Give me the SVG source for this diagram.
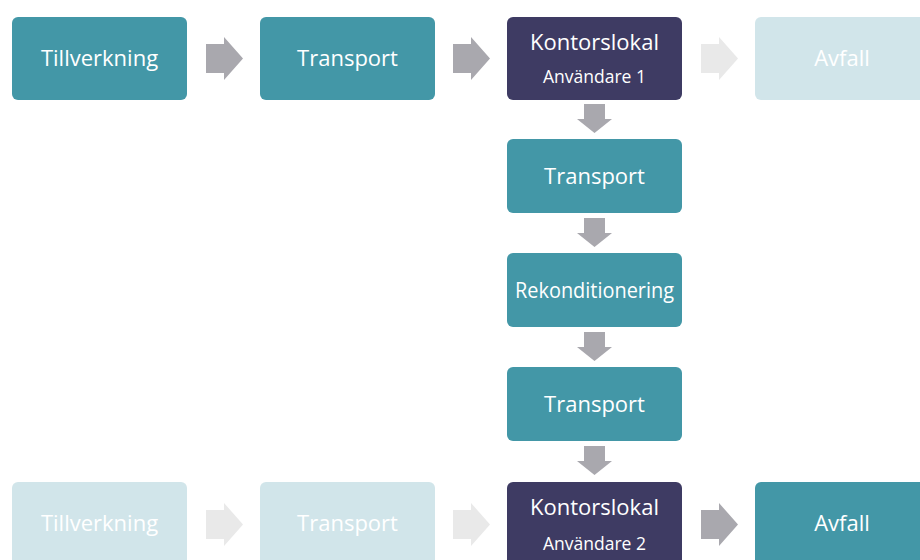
<svg xmlns="http://www.w3.org/2000/svg" width="920" height="560" viewBox="0 0 920 560">
<defs>
<style>
.teal{fill:#4397A7}
.navy{fill:#3E3B63}
.faded{fill:#D1E5EA}
.arr{fill:#A9A8AE}
.arrl{fill:#E9E9E9}
text{font-family:"Open Sans","Liberation Sans",sans-serif;fill:#FFFFFF;text-anchor:middle}
.t{font-size:22px}
.s{font-size:17.5px}
</style>
<path id="ah" d="M0,7 H18 V0 L37,21.5 L18,43 V36 H0 Z"/>
<path id="av" d="M7,0 H28 V15 H35 L17.5,29 L0,15 H7 Z"/>
</defs>
<rect width="920" height="560" fill="#FFFFFF"/>
<g id="connectors">
<use href="#ah" class="arr" x="206" y="37"/>
<use href="#ah" class="arr" x="453" y="37"/>
<use href="#ah" class="arrl" x="701" y="37"/>
<use href="#av" class="arr" x="577" y="104"/>
<use href="#av" class="arr" x="577" y="218"/>
<use href="#av" class="arr" x="577" y="332"/>
<use href="#av" class="arr" x="577" y="446"/>
<use href="#ah" class="arrl" x="206" y="503"/>
<use href="#ah" class="arrl" x="453" y="503"/>
<use href="#ah" class="arr" x="701" y="503"/>
</g>
<g id="n1"><rect class="teal" x="12" y="17" width="175" height="83" rx="6"/><text class="t" x="99.5" y="66">Tillverkning</text></g>
<g id="n2"><rect class="teal" x="260" y="17" width="175" height="83" rx="6"/><text class="t" x="347.5" y="66">Transport</text></g>
<g id="n3"><rect class="navy" x="507" y="17" width="175" height="83" rx="6"/><text class="t" x="594.5" y="50">Kontorslokal</text><text class="s" x="594.5" y="83">Användare 1</text></g>
<g id="n4"><rect class="faded" x="755" y="17" width="175" height="83" rx="6"/><text class="t" x="842" y="66">Avfall</text></g>
<g id="n5"><rect class="teal" x="507" y="139" width="175" height="74" rx="6"/><text class="t" x="594.5" y="184">Transport</text></g>
<g id="n6"><rect class="teal" x="507" y="253" width="175" height="74" rx="6"/><text class="t" x="594.5" y="298" textLength="159" lengthAdjust="spacingAndGlyphs">Rekonditionering</text></g>
<g id="n7"><rect class="teal" x="507" y="367" width="175" height="74" rx="6"/><text class="t" x="594.5" y="412">Transport</text></g>
<g id="n8"><rect class="faded" x="12" y="482" width="175" height="83" rx="6"/><text class="t" x="99.5" y="531">Tillverkning</text></g>
<g id="n9"><rect class="faded" x="260" y="482" width="175" height="83" rx="6"/><text class="t" x="347.5" y="531">Transport</text></g>
<g id="n10"><rect class="navy" x="507" y="482" width="175" height="83" rx="6"/><text class="t" x="594.5" y="515">Kontorslokal</text><text class="s" x="594.5" y="550">Användare 2</text></g>
<g id="n11"><rect class="teal" x="755" y="482" width="175" height="83" rx="6"/><text class="t" x="842" y="531">Avfall</text></g>
</svg>
